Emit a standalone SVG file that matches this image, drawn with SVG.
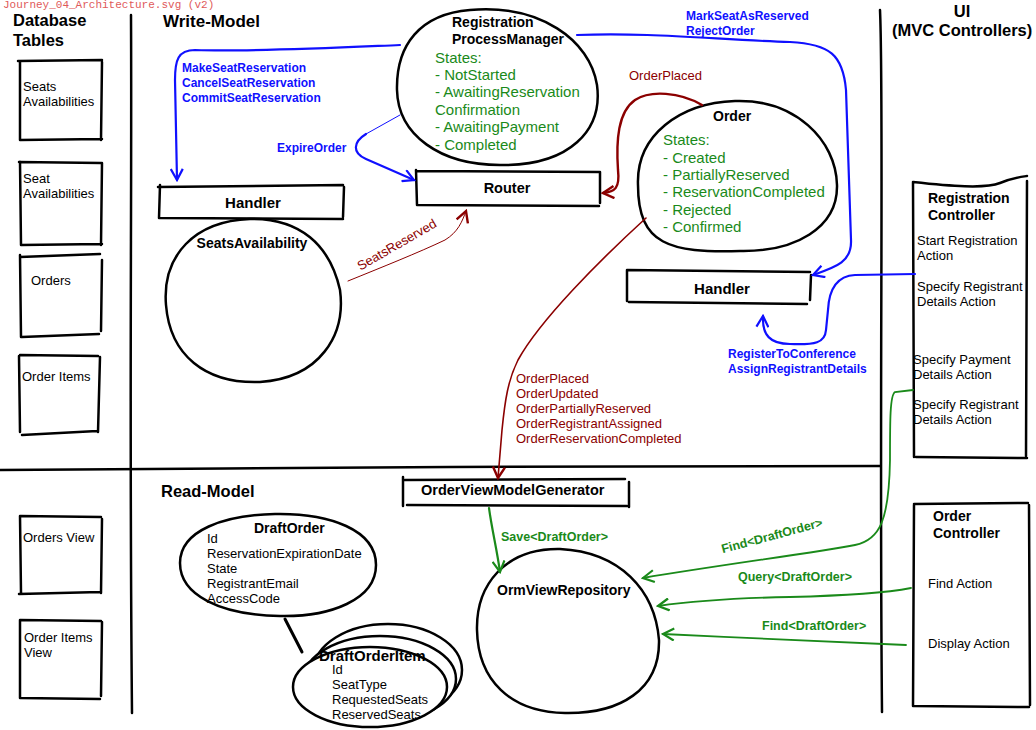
<svg xmlns="http://www.w3.org/2000/svg" width="1036" height="730" viewBox="0 0 1036 730">
<style>
text{font-family:"Liberation Sans",Arial,sans-serif;fill:#000}
.mono{font-family:"Liberation Mono","Courier New",monospace;font-size:11px;fill:#e05a5a}
.h{font-size:16.5px;font-weight:bold}
.t{font-size:14px;font-weight:bold}
.n{font-size:13px}
.g{font-size:15px;fill:#1a8a1a}
.b{font-size:12px;font-weight:bold;fill:#1010ff}
.r{font-size:13px;fill:#8b0000}
.gl{font-size:12.5px;font-weight:bold;fill:#1a8a1a}
.sk{fill:none;stroke:#000;stroke-width:2.5;stroke-linecap:round;stroke-linejoin:round}
.shape{fill:#fff;stroke:#000;stroke-width:2.5}
.cb{fill:none;stroke:#1010ff;stroke-width:2.2;stroke-linecap:round}
.cr{fill:none;stroke:#8b0000;stroke-width:1.6;stroke-linecap:round}
.cg{fill:none;stroke:#1a8a1a;stroke-width:1.8;stroke-linecap:round}
</style>
<defs>
<marker id="ab" viewBox="0 0 14 14" refX="12" refY="7" markerWidth="14" markerHeight="14" markerUnits="userSpaceOnUse" orient="auto"><path d="M1,1 L12,7 L1,13" fill="none" stroke="#1010ff" stroke-width="2.2"/></marker>
<marker id="ar" viewBox="0 0 14 14" refX="12" refY="7" markerWidth="14" markerHeight="14" markerUnits="userSpaceOnUse" orient="auto"><path d="M1,1 L12,7 L1,13" fill="none" stroke="#8b0000" stroke-width="2.4"/></marker>
<marker id="ag" viewBox="0 0 14 14" refX="12" refY="7" markerWidth="14" markerHeight="14" markerUnits="userSpaceOnUse" orient="auto"><path d="M1,1 L12,7 L1,13" fill="none" stroke="#1a8a1a" stroke-width="2.2"/></marker>
</defs>
<rect width="1036" height="730" fill="#fff"/>
<text class="mono" x="3" y="8">Journey_04_Architecture.svg (v2)</text>

<g id="separators">
<path class="sk" d="M131,15 C132,200 129,400 132,713"/>
<path class="sk" d="M880,10 C884,100 879,400 882,712"/>
<path class="sk" d="M0,470 C150,468 300,469 450,467 C600,466 750,467 880,466"/>
</g>

<g id="headings">
<text class="h" x="13" y="26">Database</text>
<text class="h" x="13" y="46">Tables</text>
<text class="h" x="163" y="27" style="font-size:17px">Write-Model</text>
<text class="h" x="161" y="497">Read-Model</text>
<text class="h" x="962" y="17" text-anchor="middle">UI</text>
<text class="h" x="892" y="36">(MVC Controllers)</text>
</g>

<g id="table-seats-availabilities">
<path class="sk" d="M20,61 L20,140 M18,61 L102,60 M102,62 L101,140 M20,140 L102,139"/>
<text class="n" x="23" y="91">Seats</text>
<text class="n" x="23" y="106">Availabilities</text>
</g>
<g id="table-seat-availabilities">
<path class="sk" d="M20,162 L21,245 M19,162 L101,163 M102,163 L101,245 M21,245 L102,244"/>
<text class="n" x="23" y="183">Seat</text>
<text class="n" x="23" y="198">Availabilities</text>
</g>
<g id="table-orders">
<path class="sk" d="M20,255 L21,337 M20,257 L100,254 M102,260 L101,331 M22,337 L99,334"/>
<text class="n" x="31" y="285">Orders</text>
</g>
<g id="table-order-items">
<path class="sk" d="M19,356 L20,432 M20,355 L98,356 M100,357 L98,432 M22,435 L97,431"/>
<text class="n" x="22" y="381">Order Items</text>
</g>
<g id="table-orders-view">
<path class="sk" d="M20,516 L21,593 M20,516 L101,517 M102,519 L101,593 M19,594 L100,592"/>
<text class="n" x="23" y="542">Orders View</text>
</g>
<g id="table-order-items-view">
<path class="sk" d="M20,620 L20,698 M20,620 L101,621 M102,622 L101,696 M20,698 L100,699"/>
<text class="n" x="24" y="642">Order Items</text>
<text class="n" x="24" y="657">View</text>
</g>

<g id="registration-process-manager">
<path class="shape" d="M470,10 C540,4 590,40 597,85 C603,130 570,166 500,165 C440,165 398,135 397,90 C396,45 420,14 470,10 Z"/>
<text class="t" x="452" y="27">Registration</text>
<text class="t" x="452" y="44">ProcessManager</text>
<text class="g" x="435" y="63">States:</text>
<text class="g" x="435" y="80">- NotStarted</text>
<text class="g" x="435" y="97">- AwaitingReservation</text>
<text class="g" x="435" y="115">Confirmation</text>
<text class="g" x="435" y="132">- AwaitingPayment</text>
<text class="g" x="435" y="150">- Completed</text>
</g>

<g id="order">
<path class="shape" d="M735,101 C795,99 836,140 837,185 C838,228 795,252 740,251 C670,253 638,245 638,185 C636,135 680,103 735,101 Z"/>
<text class="t" x="713" y="121">Order</text>
<text class="g" x="663" y="145">States:</text>
<text class="g" x="663" y="163">- Created</text>
<text class="g" x="663" y="180">- PartiallyReserved</text>
<text class="g" x="663" y="197">- ReservationCompleted</text>
<text class="g" x="663" y="215">- Rejected</text>
<text class="g" x="663" y="232">- Confirmed</text>
</g>

<g id="handler-seats">
<path class="sk" d="M158,187 L343,185 M160,185 L159,218 M344,187 L343,217 M160,218 L343,219"/>
<text class="t" x="253" y="208" text-anchor="middle" style="font-size:15px">Handler</text>
</g>

<g id="seats-availability">
<path class="shape" d="M250,219 C300,218 330,245 340,290 C346,335 320,378 260,382 C205,384 170,355 166,305 C162,255 195,221 250,219 Z"/>
<text class="t" x="252" y="248" text-anchor="middle">SeatsAvailability</text>
</g>

<g id="router">
<path class="sk" d="M416,171 L600,172 M416,170 L417,205 M600,172 L600,203 M418,205 L599,206"/>
<text class="t" x="507" y="193" text-anchor="middle" style="font-size:14.5px">Router</text>
</g>

<g id="handler-orders">
<path class="sk" d="M627,270 L810,272 M627,270 L627,301 M811,275 L810,300 M629,302 L807,304"/>
<text class="t" x="722" y="294" text-anchor="middle" style="font-size:15px">Handler</text>
</g>

<g id="registration-controller">
<path class="sk" d="M913,182 C950,186 985,189 1000,183 C1012,178 1020,177 1027,176 M913,182 L914,457 M1027,181 L1026,456 M916,457 L1027,458"/>
<text class="t" x="928" y="203">Registration</text>
<text class="t" x="928" y="220">Controller</text>
<text class="n" x="917" y="245">Start Registration</text>
<text class="n" x="917" y="260">Action</text>
<text class="n" x="917" y="291">Specify Registrant</text>
<text class="n" x="917" y="306">Details Action</text>
<text class="n" x="913" y="364">Specify Payment</text>
<text class="n" x="913" y="379">Details Action</text>
<text class="n" x="913" y="409">Specify Registrant</text>
<text class="n" x="913" y="424">Details Action</text>
</g>

<g id="order-view-model-generator">
<path class="sk" d="M405,480 L625,479 M403,477 L403,506 M629,482 L629,507 M407,505 L627,506"/>
<text class="t" x="421" y="495" style="font-size:14.5px">OrderViewModelGenerator</text>
</g>

<g id="orm-view-repository">
<path class="shape" d="M560,549 C620,552 655,590 659,640 C660,690 620,714 565,713 C510,712 478,680 477,630 C476,585 505,548 560,549 Z"/>
<text class="t" x="497" y="595">OrmViewRepository</text>
</g>

<g id="draft-order">
<path class="shape" d="M275,514 C330,513 376,530 376,565 C376,600 330,617 280,616 C220,615 180,595 180,563 C180,530 225,515 275,514 Z"/>
<text class="t" x="254" y="533">DraftOrder</text>
<text class="n" x="207" y="543">Id</text>
<text class="n" x="207" y="558">ReservationExpirationDate</text>
<text class="n" x="207" y="573">State</text>
<text class="n" x="207" y="588">RegistrantEmail</text>
<text class="n" x="207" y="603">AccessCode</text>
</g>

<g id="draft-order-item">
<path class="sk" d="M285,619 L302,652" style="stroke-width:3"/>
<ellipse class="shape" cx="388" cy="670" rx="74" ry="46"/>
<ellipse class="shape" cx="380" cy="679" rx="76" ry="43"/>
<ellipse class="shape" cx="370" cy="687" rx="77" ry="40"/>
<text class="t" x="319" y="661" style="font-size:15px">DraftOrderItem</text>
<text class="n" x="332" y="674">Id</text>
<text class="n" x="332" y="689">SeatType</text>
<text class="n" x="332" y="704">RequestedSeats</text>
<text class="n" x="332" y="719">ReservedSeats</text>
</g>

<g id="order-controller">
<path class="sk" d="M914,504 L1028,503 M914,505 L913,706 M1029,505 L1030,705 M914,706 L1029,707"/>
<text class="t" x="933" y="521">Order</text>
<text class="t" x="933" y="538">Controller</text>
<text class="n" x="928" y="588">Find Action</text>
<text class="n" x="928" y="648">Display Action</text>
</g>

<g id="connectors">
<path class="cb" d="M400,45 C330,48 250,52 195,50 C178,50 175,60 175,80 L177,180" marker-end="url(#ab)"/>
<text class="b" x="182" y="72">MakeSeatReservation</text>
<text class="b" x="182" y="87">CancelSeatReservation</text>
<text class="b" x="182" y="102">CommitSeatReservation</text>

<path class="cb" d="M400,115 L366,134" style="stroke-width:1"/>
<path class="cb" d="M366,134 C353,142 352,153 366,159 L414,180" marker-end="url(#ab)"/>
<text class="b" x="277" y="152">ExpireOrder</text>

<path class="cb" d="M577,35 C650,32 720,40 790,42 C830,44 843,55 846,90 L851,240 C852,262 836,267 813,275" marker-end="url(#ab)"/>
<text class="b" x="686" y="20">MarkSeatAsReserved</text>
<text class="b" x="686" y="35">RejectOrder</text>

<path class="cb" d="M915,274 L855,275 C836,276 829,290 828,310 L826,330 C825,343 815,345 790,344 C770,344 762,335 763,316" marker-end="url(#ab)"/>
<text class="b" x="728" y="358">RegisterToConference</text>
<text class="b" x="728" y="373">AssignRegistrantDetails</text>

<path class="cr" d="M702,105 C680,92 650,90 635,100 C618,112 616,140 618,170 C620,188 615,192 603,193" marker-end="url(#ar)" style="stroke-width:2.4"/>
<text class="r" x="629" y="80">OrderPlaced</text>

<path class="cr" d="M348,281 C380,268 420,252 445,240 C458,232 462,222 466,211" marker-end="url(#ar)" style="stroke-width:1"/>
<text class="r" x="397" y="249" text-anchor="middle" transform="rotate(-30 397 245)">SeatsReserved</text>

<path class="cr" d="M646,218 C600,260 540,320 518,360 C508,380 505,400 502,430 L498,478" marker-end="url(#ar)"/>
<text class="r" x="516" y="383">OrderPlaced</text>
<text class="r" x="516" y="398">OrderUpdated</text>
<text class="r" x="516" y="413">OrderPartiallyReserved</text>
<text class="r" x="516" y="428">OrderRegistrantAssigned</text>
<text class="r" x="516" y="443">OrderReservationCompleted</text>

<path class="cg" d="M489,508 C492,530 497,550 500,572" marker-end="url(#ag)" style="stroke-width:2.2"/>
<text class="gl" x="501" y="541">Save&lt;DraftOrder&gt;</text>

<path class="cg" d="M913,390 L895,392 C890,395 890,420 890,460 C889,520 880,540 855,545 C820,552 720,565 643,578" marker-end="url(#ag)"/>
<text class="gl" x="772" y="540" text-anchor="middle" transform="rotate(-15 772 536)">Find&lt;DraftOrder&gt;</text>

<path class="cg" d="M911,588 C880,594 830,596 790,597 C740,598 700,600 658,606" marker-end="url(#ag)"/>
<text class="gl" x="738" y="581">Query&lt;DraftOrder&gt;</text>

<path class="cg" d="M906,645 C850,643 750,638 663,634" marker-end="url(#ag)"/>
<text class="gl" x="762" y="630">Find&lt;DraftOrder&gt;</text>
</g>
</svg>
